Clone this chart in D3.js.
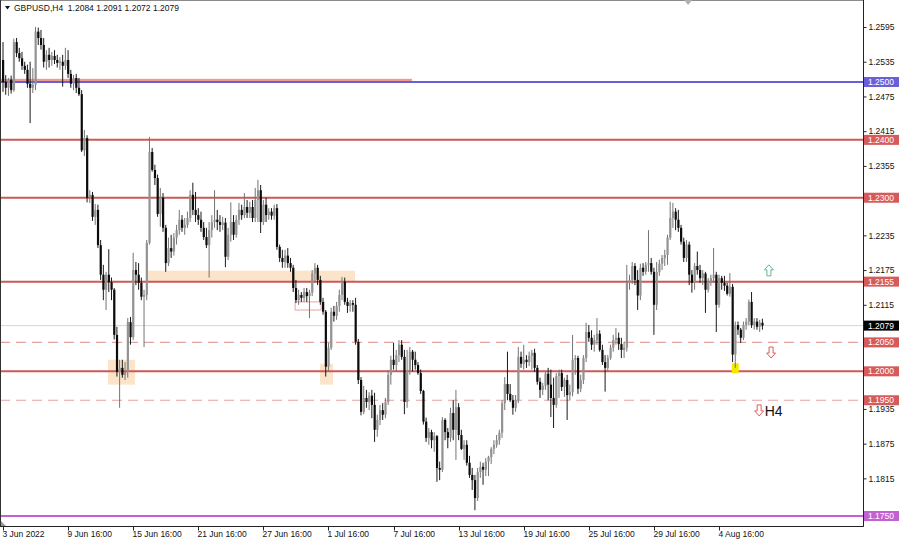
<!DOCTYPE html>
<html><head><meta charset="utf-8">
<script src="https://cdn.jsdelivr.net/npm/d3@7"></script>
<style>
body{margin:0;background:#fff}
svg{display:block}
text{font-family:"Liberation Sans",Arial,sans-serif}
</style>
</head><body>
<svg id="c" width="900" height="540"></svg>
<script>
const symbolName = "GBPUSD,H4";

const opens = [
1.2538,1.2500,1.2490,1.2504,1.2486,1.2569,1.2550,1.2541,1.2528,1.2521,
1.2497,1.2490,1.2495,1.2587,1.2576,1.2564,1.2535,1.2547,1.2538,1.2545,
1.2538,1.2533,1.2535,1.2528,1.2538,1.2514,1.2497,1.2507,1.2490,1.2479,
1.2382,1.2403,1.2300,1.2305,1.2267,1.2279,1.2218,1.2167,1.2141,1.2167,
1.2154,1.2141,1.2063,1.1999,1.2006,1.1994,1.1999,1.2085,1.2059,1.2175,
1.2167,1.2153,1.2129,1.2132,1.2222,1.2379,1.2348,1.2334,1.2272,1.2300,
1.2248,1.2187,1.2213,1.2207,1.2231,1.2244,1.2262,1.2248,1.2253,1.2265,
1.2305,1.2279,1.2270,1.2262,1.2248,1.2232,1.2218,1.2244,1.2258,1.2262,
1.2258,1.2253,1.2257,1.2198,1.2236,1.2258,1.2236,1.2262,1.2279,1.2270,
1.2284,1.2274,1.2284,1.2265,1.2296,1.2313,1.2258,1.2288,1.2270,1.2276,
1.2269,1.2282,1.2215,1.2196,1.2189,1.2200,1.2187,1.2179,1.2144,1.2123,
1.2132,1.2127,1.2137,1.2130,1.2136,1.2169,1.2179,1.2158,1.2120,1.2103,
1.2008,1.2041,1.2103,1.2096,1.2113,1.2132,1.2155,1.2120,1.2113,1.2118,
1.2115,1.2051,1.1985,1.1930,1.1954,1.1947,1.1958,1.1942,1.1899,1.1916,
1.1933,1.1925,1.1947,1.1994,1.2020,1.2011,1.2028,1.2046,1.2025,1.1947,
1.2002,1.2034,1.2020,1.2011,1.1997,1.1966,1.1913,1.1885,1.1895,1.1881,
1.1888,1.1833,1.1830,1.1916,1.1895,1.1885,1.1928,1.1899,1.1938,1.1890,
1.1866,1.1873,1.1842,1.1821,1.1812,1.1781,1.1826,1.1835,1.1830,1.1844,
1.1852,1.1866,1.1873,1.1881,1.1894,1.1945,1.1978,1.1961,1.1950,1.1937,
1.1950,1.2025,1.2013,1.2020,1.2016,1.2027,1.2032,1.2006,1.1982,1.1968,
1.1975,1.1996,1.1977,1.1954,1.1942,1.1992,1.1997,1.1973,1.1985,1.1959,
1.1964,1.2020,1.2023,1.1970,1.1985,1.2023,1.2068,1.2058,1.2046,1.2054,
1.2065,1.2037,1.2016,1.2006,1.2023,1.2041,1.2054,1.2058,1.2047,1.2037,
1.2041,1.2153,1.2158,1.2182,1.2158,1.2131,1.2179,1.2172,1.2184,1.2187,
1.2172,1.2115,1.2172,1.2186,1.2196,1.2201,1.2231,1.2265,1.2276,1.2262,
1.2248,1.2224,1.2196,1.2219,1.2167,1.2153,1.2182,1.2175,1.2161,1.2169,
1.2141,1.2155,1.2161,1.2167,1.2115,1.2161,1.2153,1.2148,1.2134,1.2146,
1.2029,1.2080,1.2072,1.2058,1.2080,1.2086,1.2120,1.2080,1.2086,1.2077,1.2084];

const highs = [
1.2569,1.2512,1.2507,1.2511,1.2575,1.2576,1.2559,1.2552,1.2535,1.2530,
1.2535,1.2524,1.2595,1.2594,1.2590,1.2576,1.2555,1.2559,1.2552,1.2555,
1.2547,1.2543,1.2547,1.2559,1.2555,1.2521,1.2512,1.2514,1.2507,1.2486,
1.2417,1.2408,1.2313,1.2310,1.2289,1.2288,1.2227,1.2184,1.2172,1.2211,
1.2162,1.2144,1.2077,1.2020,1.2020,1.2016,1.2092,1.2094,1.2205,1.2189,
1.2187,1.2162,1.2141,1.2227,1.2405,1.2386,1.2357,1.2340,1.2317,1.2308,
1.2253,1.2231,1.2236,1.2239,1.2253,1.2279,1.2270,1.2265,1.2276,1.2313,
1.2326,1.2310,1.2282,1.2276,1.2258,1.2248,1.2258,1.2270,1.2313,1.2279,
1.2270,1.2267,1.2265,1.2248,1.2292,1.2270,1.2270,1.2291,1.2288,1.2308,
1.2296,1.2293,1.2296,1.2317,1.2331,1.2322,1.2296,1.2300,1.2282,1.2282,
1.2288,1.2289,1.2219,1.2210,1.2210,1.2213,1.2196,1.2184,1.2158,1.2141,
1.2137,1.2144,1.2144,1.2141,1.2175,1.2187,1.2184,1.2165,1.2127,1.2106,
1.2049,1.2110,1.2113,1.2120,1.2141,1.2163,1.2162,1.2127,1.2123,1.2123,
1.2127,1.2056,1.1990,1.1975,1.1968,1.1964,1.1968,1.1963,1.1925,1.1942,
1.1945,1.1954,1.2002,1.2027,1.2049,1.2037,1.2054,1.2054,1.2037,1.2037,
1.2042,1.2037,1.2034,1.2016,1.2003,1.1968,1.1920,1.1902,1.1899,1.1895,
1.1890,1.1844,1.1921,1.1919,1.1902,1.1937,1.1950,1.1968,1.1945,1.1899,
1.1881,1.1881,1.1854,1.1833,1.1821,1.1833,1.1844,1.1842,1.1850,1.1854,
1.1869,1.1881,1.1890,1.1899,1.1950,1.1990,1.2034,1.1978,1.1959,1.1959,
1.2042,1.2034,1.2046,1.2028,1.2034,1.2037,1.2039,1.2011,1.1989,1.1980,
1.1999,1.2006,1.2003,1.1989,1.1997,1.2003,1.2003,1.1989,1.1994,1.1977,
1.2063,1.2028,1.2027,1.1994,1.2028,1.2084,1.2080,1.2071,1.2063,1.2092,
1.2071,1.2046,1.2028,1.2028,1.2046,1.2063,1.2075,1.2067,1.2058,1.2051,
1.2184,1.2167,1.2189,1.2187,1.2175,1.2186,1.2187,1.2189,1.2244,1.2196,
1.2179,1.2189,1.2193,1.2201,1.2210,1.2236,1.2293,1.2291,1.2282,1.2279,
1.2253,1.2231,1.2227,1.2224,1.2175,1.2187,1.2207,1.2184,1.2175,1.2172,
1.2161,1.2167,1.2213,1.2172,1.2167,1.2165,1.2165,1.2153,1.2170,1.2151,
1.2086,1.2086,1.2075,1.2086,1.2092,1.2124,1.2137,1.2092,1.2092,1.2089,1.2091];

const lows = [
1.2483,1.2478,1.2476,1.2480,1.2483,1.2543,1.2535,1.2521,1.2514,1.2490,
1.2429,1.2481,1.2486,1.2564,1.2556,1.2525,1.2521,1.2525,1.2528,1.2531,
1.2525,1.2521,1.2492,1.2521,1.2507,1.2490,1.2486,1.2481,1.2476,1.2379,
1.2372,1.2292,1.2291,1.2260,1.2253,1.2213,1.2158,1.2123,1.2106,1.2137,
1.2123,1.2055,1.1991,1.1937,1.1989,1.1985,1.1989,1.2046,1.2054,1.2149,
1.2141,1.2123,1.2042,1.2123,1.2219,1.2345,1.2322,1.2267,1.2250,1.2241,
1.2172,1.2182,1.2196,1.2200,1.2219,1.2236,1.2241,1.2236,1.2248,1.2258,
1.2270,1.2258,1.2253,1.2241,1.2227,1.2213,1.2162,1.2231,1.2248,1.2244,
1.2241,1.2244,1.2180,1.2192,1.2224,1.2227,1.2231,1.2253,1.2262,1.2265,
1.2265,1.2265,1.2258,1.2258,1.2258,1.2239,1.2253,1.2258,1.2262,1.2262,
1.2262,1.2210,1.2189,1.2179,1.2179,1.2179,1.2172,1.2137,1.2118,1.2115,
1.2120,1.2120,1.2120,1.2092,1.2130,1.2153,1.2149,1.2115,1.2098,1.1991,
1.1999,1.2037,1.2086,1.2089,1.2103,1.2123,1.2115,1.2101,1.2103,1.2103,
1.2046,1.1978,1.1924,1.1926,1.1937,1.1933,1.1919,1.1878,1.1887,1.1907,
1.1916,1.1919,1.1942,1.1977,1.2003,1.1999,1.2016,1.2020,1.1926,1.1937,
1.1994,1.2000,1.2003,1.1994,1.1961,1.1908,1.1878,1.1873,1.1867,1.1861,
1.1809,1.1812,1.1826,1.1881,1.1867,1.1878,1.1881,1.1847,1.1881,1.1864,
1.1847,1.1837,1.1816,1.1795,1.1760,1.1776,1.1816,1.1804,1.1819,1.1819,
1.1840,1.1857,1.1868,1.1873,1.1885,1.1933,1.1950,1.1947,1.1925,1.1930,
1.1945,1.2006,1.2003,1.2006,1.2009,1.2003,1.1999,1.1977,1.1954,1.1959,
1.1968,1.1950,1.1921,1.1902,1.1937,1.1954,1.1966,1.1956,1.1916,1.1950,
1.1957,1.1994,1.1961,1.1964,1.1978,1.2016,1.2051,1.2037,1.2034,1.2046,
1.2034,1.2011,1.1965,1.1999,1.2020,1.2034,1.2046,1.2037,1.2023,1.2023,
1.2034,1.2141,1.2151,1.2149,1.2106,1.2123,1.2165,1.2167,1.2172,1.2167,
1.2063,1.2106,1.2165,1.2175,1.2182,1.2184,1.2227,1.2248,1.2244,1.2241,
1.2219,1.2189,1.2189,1.2149,1.2136,1.2141,1.2167,1.2153,1.2149,1.2101,
1.2136,1.2148,1.2153,1.2068,1.2110,1.2141,1.2139,1.2131,1.2129,1.2016,
1.2006,1.2063,1.2049,1.2054,1.2072,1.2080,1.2075,1.2072,1.2072,1.2068,1.2072];

const closes = [
1.2500,1.2490,1.2504,1.2486,1.2569,1.2550,1.2541,1.2528,1.2521,1.2497,
1.2490,1.2495,1.2587,1.2576,1.2564,1.2535,1.2547,1.2538,1.2545,1.2538,
1.2533,1.2535,1.2528,1.2538,1.2514,1.2497,1.2507,1.2490,1.2479,1.2382,
1.2403,1.2300,1.2305,1.2267,1.2279,1.2218,1.2167,1.2141,1.2167,1.2154,
1.2141,1.2063,1.1999,1.2006,1.1994,1.1999,1.2085,1.2059,1.2175,1.2167,
1.2153,1.2129,1.2132,1.2222,1.2379,1.2348,1.2334,1.2272,1.2300,1.2248,
1.2187,1.2213,1.2207,1.2231,1.2244,1.2262,1.2248,1.2253,1.2265,1.2305,
1.2279,1.2270,1.2262,1.2248,1.2232,1.2218,1.2244,1.2258,1.2262,1.2258,
1.2253,1.2257,1.2198,1.2236,1.2258,1.2236,1.2262,1.2279,1.2270,1.2284,
1.2274,1.2284,1.2265,1.2296,1.2313,1.2258,1.2288,1.2270,1.2276,1.2269,
1.2282,1.2215,1.2196,1.2189,1.2200,1.2187,1.2179,1.2144,1.2123,1.2132,
1.2127,1.2137,1.2130,1.2136,1.2169,1.2179,1.2158,1.2120,1.2103,1.2008,
1.2041,1.2103,1.2096,1.2113,1.2132,1.2155,1.2120,1.2113,1.2118,1.2115,
1.2051,1.1985,1.1930,1.1954,1.1947,1.1958,1.1942,1.1899,1.1916,1.1933,
1.1925,1.1947,1.1994,1.2020,1.2011,1.2028,1.2046,1.2025,1.1947,1.2002,
1.2034,1.2020,1.2011,1.1997,1.1966,1.1913,1.1885,1.1895,1.1881,1.1888,
1.1833,1.1830,1.1916,1.1895,1.1885,1.1928,1.1899,1.1938,1.1890,1.1866,
1.1873,1.1842,1.1821,1.1812,1.1781,1.1826,1.1835,1.1830,1.1844,1.1852,
1.1866,1.1873,1.1881,1.1894,1.1945,1.1978,1.1961,1.1950,1.1937,1.1950,
1.2025,1.2013,1.2020,1.2016,1.2027,1.2032,1.2006,1.1982,1.1968,1.1975,
1.1996,1.1977,1.1954,1.1942,1.1992,1.1997,1.1973,1.1985,1.1959,1.1964,
1.2020,1.2023,1.1970,1.1985,1.2023,1.2068,1.2058,1.2046,1.2054,1.2065,
1.2037,1.2016,1.2006,1.2023,1.2041,1.2054,1.2058,1.2047,1.2037,1.2041,
1.2153,1.2158,1.2182,1.2158,1.2131,1.2179,1.2172,1.2184,1.2187,1.2172,
1.2115,1.2172,1.2186,1.2196,1.2201,1.2231,1.2265,1.2276,1.2262,1.2248,
1.2224,1.2196,1.2219,1.2167,1.2153,1.2182,1.2175,1.2161,1.2169,1.2141,
1.2155,1.2161,1.2167,1.2115,1.2161,1.2153,1.2148,1.2134,1.2146,1.2029,
1.2080,1.2072,1.2058,1.2080,1.2086,1.2120,1.2080,1.2086,1.2077,1.2084,1.2079];

const timeLabelIdx = [0,24,48,72,96,120,144,168,192,216,240,264];
const timeLabels = ["3 Jun 2022","9 Jun 16:00","15 Jun 16:00","21 Jun 16:00","27 Jun 16:00","1 Jul 16:00",
  "7 Jul 16:00","13 Jul 16:00","19 Jul 16:00","25 Jul 16:00","29 Jul 16:00","4 Aug 16:00"];

const priceTicks = [1.2595,1.2535,1.2475,1.2415,1.2355,1.2295,1.2235,1.2175,1.2115,1.2055,1.1995,1.1935,1.1875,1.1815,1.1755];

const blueLevel = 1.2500;
const redLevels = [1.2400,1.2300,1.2155,1.2000];
const dashedLevels = [1.2050,1.1950];
const purpleLevel = 1.1750;
const lastPrice = 1.2079;

// supply/demand zones: bar-index span and price span
const zoneStart = [38.7, 53.5, 116.9];
const zoneEnd   = [48.7, 129.8, 121.7];
const zoneTop   = [1.2020, 1.2174, 1.2013];
const zoneBot   = [1.1977, 1.2156, 1.1977];
// salmon band at 1.2500 and thin outlined box
const bandSpan = [-1.2, 150.8]; const bandPrices = [1.25055, 1.2500];
const boxSpan = [107.7, 117.3]; const boxPrices = [1.2120, 1.2106];
// yellow marker
const markIdx = 270; const markPrices = [1.2014, 1.1997];
// arrows
const arrowIdx = [282.4, 283.2, 278.8];
const arrowPrice = [1.2184, 1.2042, 1.1942];
const arrowDir = ["up","down","down"];
const arrowText = ["","","H4"];

// ---------- drawing ----------
const svg = d3.select("#c");
svg.append("rect").attr("width",900).attr("height",540).attr("fill","#fff");

const plotR = 863, plotB = 526;
const x = d3.scaleLinear().domain([0, 280]).range([3, 762.4]);
const y = d3.scaleLinear().domain([1.173272, 1.264170]).range([plotB, 0]);

svg.append("defs").append("clipPath").attr("id","clip")
  .append("rect").attr("x",0).attr("y",0).attr("width",plotR).attr("height",plotB);
const plot = svg.append("g").attr("clip-path","url(#clip)");

// zones
zoneStart.forEach((s,k)=>{
  plot.append("rect").attr("x",x(s)).attr("width",x(zoneEnd[k])-x(s))
    .attr("y",y(zoneTop[k])).attr("height",y(zoneBot[k])-y(zoneTop[k]))
    .attr("fill","#fbe4c9");
});
plot.append("rect").attr("x",x(boxSpan[0])).attr("width",x(boxSpan[1])-x(boxSpan[0]))
  .attr("y",y(boxPrices[0])).attr("height",y(boxPrices[1])-y(boxPrices[0]))
  .attr("fill","none").attr("stroke","#e6a3a3").attr("stroke-width",1);

// horizontal levels
plot.append("line").attr("x1",0).attr("x2",plotR).attr("y1",y(lastPrice)).attr("y2",y(lastPrice))
  .attr("stroke","#d6d6d6").attr("stroke-width",1);
dashedLevels.forEach(p=>{
  plot.append("line").attr("x1",0).attr("x2",plotR).attr("y1",y(p)).attr("y2",y(p))
    .attr("stroke","#e3a2a2").attr("stroke-width",1.2).attr("stroke-dasharray","10,6");
});
redLevels.forEach(p=>{
  plot.append("line").attr("x1",0).attr("x2",plotR).attr("y1",y(p)).attr("y2",y(p))
    .attr("stroke","#cd5858").attr("stroke-width",2);
});
plot.append("rect").attr("x",x(bandSpan[0])).attr("width",x(bandSpan[1])-x(bandSpan[0]))
  .attr("y",y(bandPrices[0])).attr("height",y(bandPrices[1])-y(bandPrices[0]))
  .attr("fill","#f09c8c");
plot.append("line").attr("x1",0).attr("x2",plotR).attr("y1",y(blueLevel)).attr("y2",y(blueLevel))
  .attr("stroke","#6a5fd8").attr("stroke-width",2);
plot.append("line").attr("x1",0).attr("x2",plotR).attr("y1",y(purpleLevel)).attr("y2",y(purpleLevel))
  .attr("stroke","#c262d2").attr("stroke-width",2);

// yellow marker
plot.append("rect").attr("x",x(markIdx)-3.5).attr("width",7)
  .attr("y",y(markPrices[0])).attr("height",y(markPrices[1])-y(markPrices[0]))
  .attr("fill","#f5e900");

// candles
const bars = d3.range(opens.length).map(i=>({i,o:opens[i],h:highs[i],l:lows[i],c:closes[i]}));
const cg = plot.append("g");
cg.selectAll("line.w").data(bars).join("line").attr("class","w")
  .attr("x1",d=>x(d.i)).attr("x2",d=>x(d.i))
  .attr("y1",d=>y(d.h)).attr("y2",d=>y(d.l))
  .attr("stroke",d=>d.c>=d.o?"#747474":"#1a1a1a").attr("stroke-width",1);
cg.selectAll("rect.b").data(bars).join("rect").attr("class","b")
  .attr("x",d=>x(d.i)-1).attr("width",2.2)
  .attr("y",d=>y(Math.max(d.o,d.c)))
  .attr("height",d=>Math.max(1,Math.abs(y(d.o)-y(d.c))))
  .attr("fill",d=>d.c>=d.o?"#939393":"#0c0c0c");

// arrows
arrowIdx.forEach((ai,k)=>{
  const cx = x(ai), ty = y(arrowPrice[k]);
  let pts;
  if(arrowDir[k]==="up"){
    pts=[[cx,ty],[cx+4.5,ty+5],[cx+2,ty+5],[cx+2,ty+11],[cx-2,ty+11],[cx-2,ty+5],[cx-4.5,ty+5]];
  } else {
    pts=[[cx-2,ty],[cx+2,ty],[cx+2,ty+6],[cx+4.5,ty+6],[cx,ty+11],[cx-4.5,ty+6],[cx-2,ty+6]];
  }
  svg.append("path").attr("d","M"+pts.map(p=>p.join(",")).join("L")+"Z")
    .attr("fill","#fff").attr("stroke",arrowDir[k]==="up"?"#5fb98f":"#e05a5a").attr("stroke-width",1);
  if(arrowText[k]){
    svg.append("text").attr("x",cx+5.5).attr("y",ty+11).attr("font-size",14)
      .attr("fill","#111").text(arrowText[k]);
  }
});

// frame
svg.append("rect").attr("x",0.5).attr("y",0.5).attr("width",plotR).attr("height",plotB)
  .attr("fill","none").attr("stroke","#8a8a8a").attr("stroke-width",1);
svg.append("line").attr("x1",0.5).attr("x2",0.5).attr("y1",0).attr("y2",plotB).attr("stroke","#333");
svg.append("line").attr("x1",plotR+0.5).attr("x2",plotR+0.5).attr("y1",0).attr("y2",plotB+0.5).attr("stroke","#222");
svg.append("line").attr("x1",0).attr("x2",plotR+0.5).attr("y1",plotB+0.5).attr("y2",plotB+0.5).attr("stroke","#222");

// colored level labels (their prices hide the nearby tick labels)
const boxedPrices = redLevels.concat(dashedLevels,[blueLevel,purpleLevel,lastPrice]);
// y axis ticks: tick label fully covered by a level box is not drawn (as in the reference)
const yAxis = svg.append("g").attr("transform",`translate(${plotR+0.5},0)`)
  .call(d3.axisRight(y).tickValues(priceTicks).tickSize(3).tickFormat(d3.format(".4f")));
yAxis.select(".domain").remove();
yAxis.selectAll("line").attr("stroke","#222");
yAxis.selectAll("text").attr("x",5).attr("font-size",8.5).attr("fill","#111")
  .attr("font-family","Liberation Sans, Arial, sans-serif")
  .style("display",d=>boxedPrices.some(p=>Math.abs(y(p)-y(d))<3)?"none":null);

// x axis ticks
const xAxis = svg.append("g").attr("transform",`translate(0,${plotB+0.5})`);
timeLabelIdx.forEach((ti,k)=>{
  const px = Math.round(x(ti))+0.5;
  xAxis.append("line").attr("x1",px).attr("x2",px).attr("y1",0).attr("y2",4).attr("stroke","#222");
  xAxis.append("text").attr("x",px-1).attr("y",10.5).attr("font-size",8.5).attr("fill","#111").text(timeLabels[k]);
});

function priceBox(p, bg, fg){
  const cy = y(p);
  svg.append("rect").attr("x",plotR+1).attr("y",cy-5).attr("width",35).attr("height",10).attr("fill",bg);
  svg.append("text").attr("x",plotR+5).attr("y",cy).attr("dy","0.35em").attr("font-size",8.5)
    .attr("fill",fg).text(p.toFixed(4));
}
redLevels.concat(dashedLevels).forEach(p=>priceBox(p,"#d65a5a","#fff"));
priceBox(blueLevel,"#6a5fd8","#fff");
priceBox(purpleLevel,"#c262d2","#fff");
priceBox(lastPrice,"#000","#fff");

// small UI triangles
svg.append("path").attr("d",`M1,${plotB-5}L1,${plotB}L6,${plotB}Z`).attr("fill","#999");
const sx = x(252.6);
svg.append("path").attr("d",`M${sx-4},0L${sx+4},0L${sx},5Z`).attr("fill","#b0b0b0");

// header
const last = opens.length-1;
svg.append("path").attr("d","M5,6L10,6L7.5,9.5Z").attr("fill","#111");
svg.append("text").attr("x",14).attr("y",11).attr("font-size",8.5).attr("fill","#111")
  .style("white-space","pre")
  .text(`${symbolName}  ${opens[last].toFixed(4)} ${highs[last].toFixed(4)} ${lows[last].toFixed(4)} ${closes[last].toFixed(4)}`);
</script>
</body></html>
